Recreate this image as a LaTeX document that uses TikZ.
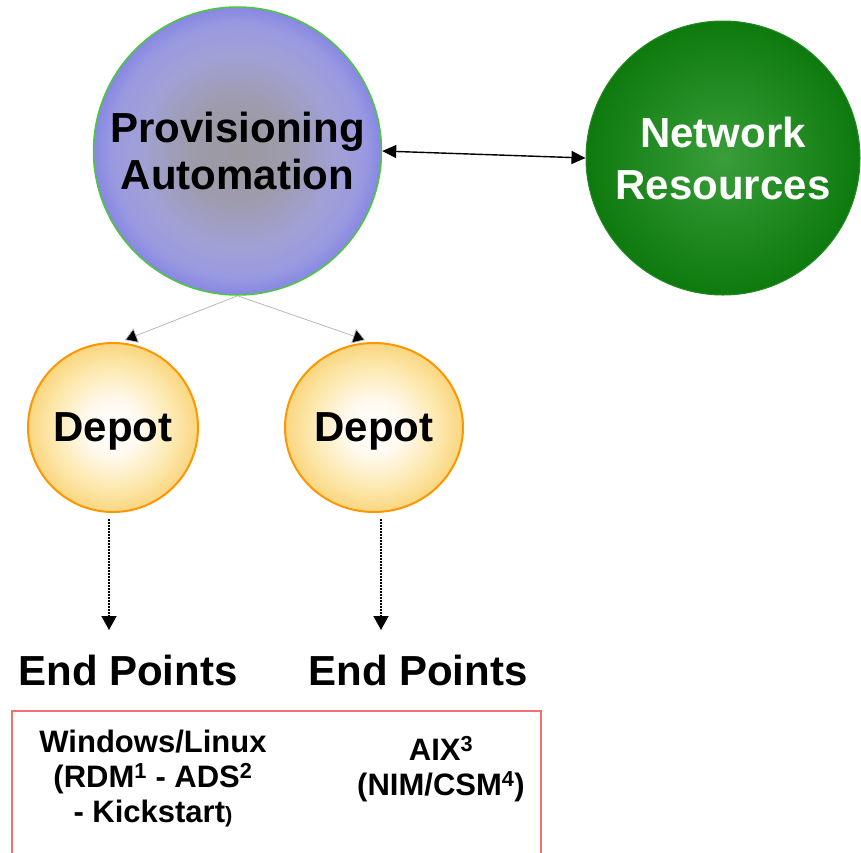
\documentclass[tikz,border=0pt]{standalone}
\usepackage{fontspec}
\setmainfont{Liberation Sans}
\usetikzlibrary{arrows.meta,shapes.geometric,calc}
\definecolor{provedge}{RGB}{76,200,60}
\definecolor{netin}{RGB}{58,158,58}
\definecolor{netout}{RGB}{14,122,14}
\definecolor{netedge}{RGB}{34,140,34}
\definecolor{depedge}{RGB}{255,150,0}
\definecolor{boxred}{RGB}{242,112,112}
\pgfdeclareradialshading{provshade}{\pgfpoint{0bp}{0bp}}{%
  rgb(0bp)=(0.61,0.60,0.63);
  rgb(9bp)=(0.62,0.61,0.68);
  rgb(17bp)=(0.63,0.63,0.84);
  rgb(22bp)=(0.60,0.60,0.88);
  rgb(25bp)=(0.53,0.53,0.89);
  rgb(50bp)=(0.53,0.53,0.89)}
\pgfdeclareradialshading{depshade}{\pgfpoint{0bp}{0bp}}{%
  rgb(0bp)=(1,1,1);
  rgb(8bp)=(1,0.98,0.94);
  rgb(18bp)=(0.99,0.91,0.68);
  rgb(25bp)=(0.98,0.84,0.50);
  rgb(50bp)=(0.98,0.84,0.50)}
\tikzset{
  big/.style={font=\bfseries\fontsize{42}{47}\selectfont, align=center, inner sep=0pt},
  small/.style={font=\bfseries\fontsize{31}{35}\selectfont, align=center, inner sep=0pt},
  provbox/.style={circle, draw=provedge, line width=1.5pt, shading=provshade, minimum size=288pt, inner sep=0pt},
  netbox/.style={circle, draw=netedge, line width=1pt, shading=radial, inner color=netin, outer color=netout, minimum size=274pt, inner sep=0pt, text=white},
  depotbox/.style={ellipse, draw=depedge, line width=2pt, shading=depshade, inner sep=0pt, minimum height=169pt, text depth=0pt},
  grayarrow/.style={draw=black!30, line width=0.7pt, -{Triangle[length=12pt,width=15pt,fill=black]}},
  dotarrow/.style={draw=black, line width=1.5pt, dash pattern=on 1.5pt off 1.5pt, -{Triangle[length=14pt,width=15pt,fill=black]}},
  dblarrow/.style={draw=black, line width=1.4pt, {Triangle[length=14pt,width=13pt]}-{Triangle[length=14pt,width=13pt]}},
}
\begin{document}
\begin{tikzpicture}[x=1pt,y=-1pt]
\clip (0,0) rectangle (861,852);
\fill[white] (0,0) rectangle (861,852);
\node[provbox, big] (prov) at (237.5,151) {Provisioning\\Automation};
\node[netbox, big, font=\bfseries\fontsize{42}{52}\selectfont] (net) at (723,158) {Network\\Resources};
\node[depotbox, big, minimum width=170pt] (d1) at (113,427.5) {Depot};
\node[depotbox, big, minimum width=178pt] (d2) at (374,427.5) {Depot};
\node[big, anchor=base] (e1) at (128,685) {End Points};
\node[big, anchor=base] (e2) at (418,685) {End Points};
\coordinate (t1) at (125,340);
\coordinate (t2) at (365,340);
\coordinate (a1) at (109,630);
\coordinate (a2) at (381,630);
\draw[grayarrow] (prov.south) -- (t1);
\draw[grayarrow] (prov.south) -- (t2);
\draw[dblarrow] (prov.east) -- (net.west);
\draw[dotarrow] ($(d1.south)+(-4,6)$) -- (a1);
\draw[dotarrow] ($(d2.south)+(7,6)$) -- (a2);
\draw[boxred, line width=1.3pt] (12,880) -- (12,711) -- (541,711) -- (541,880);
\node[small, anchor=north] (win) at (153,730) {Windows/Linux\\(RDM\textsuperscript{1} - ADS\textsuperscript{2}\\- Kickstart{\fontsize{22}{26}\selectfont)}};
\node[small, anchor=north] (aix) at (441,736) {AIX\textsuperscript{3}\\(NIM/CSM\textsuperscript{4})};
\end{tikzpicture}
\end{document}
